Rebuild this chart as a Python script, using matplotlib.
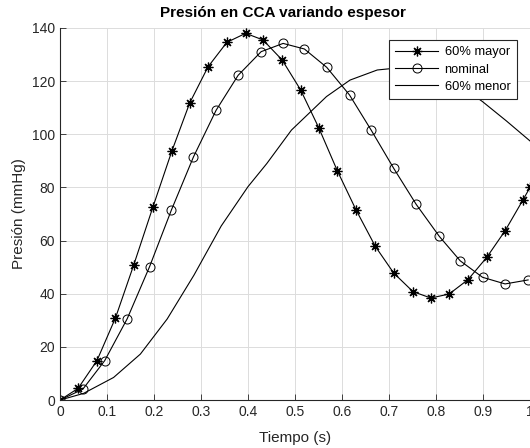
import matplotlib.pyplot as plt

plt.rcParams['font.family'] = ['Liberation Sans', 'DejaVu Sans']

# 60% mayor (asterisks)
t_mayor = [0, 0.0385, 0.0785, 0.118, 0.157, 0.198, 0.238, 0.276, 0.315, 0.355,
           0.395, 0.432, 0.4725, 0.512, 0.551, 0.590, 0.630, 0.671, 0.710, 0.751,
           0.789, 0.828, 0.868, 0.908, 0.947, 0.985, 1.0]
p_mayor = [0, 4.4, 14.8, 30.9, 50.9, 72.8, 93.7, 111.8, 125.4, 134.6,
           138.0, 135.5, 128.0, 116.7, 102.3, 86.3, 71.5, 57.8, 47.8, 40.8,
           38.4, 39.9, 45.3, 53.7, 63.7, 75.3, 80.0]

# nominal (circles)
t_nom = [0, 0.0486, 0.095, 0.143, 0.1906, 0.237, 0.284, 0.332, 0.379, 0.428,
         0.4747, 0.52, 0.5675, 0.616, 0.662, 0.710, 0.758, 0.807, 0.8515, 0.899,
         0.947, 0.996]
p_nom = [0, 4.1, 14.8, 30.6, 50.2, 71.5, 91.5, 109.0, 122.2, 131.1,
         134.2, 132.1, 125.2, 114.8, 101.6, 87.2, 73.6, 61.6, 52.4, 46.2,
         43.7, 45.2]

# 60% menor (line only)
t_men = [0, 0.05, 0.114, 0.171, 0.228, 0.285, 0.343, 0.40, 0.44, 0.4925,
         0.567, 0.617, 0.675, 0.72, 0.75, 0.80, 0.85, 0.899, 0.95, 1.0]
p_men = [0, 2.5, 8.5, 17.3, 30.5, 47.0, 65.5, 80.3, 89.0, 101.6,
         114.2, 120.4, 124.2, 125.0, 124.8, 122.5, 118.5, 112.3, 105.0, 97.5]

fig = plt.figure(figsize=(5.3, 4.48), dpi=100)
ax = fig.add_axes([0.1132, 0.107, 0.8868, 0.8305])

ax.plot(t_mayor, p_mayor, color='k', lw=0.8, marker=(8, 2, 0), ms=7,
        mew=0.9, label='60% mayor')
ax.plot(t_nom, p_nom, color='k', lw=0.8, marker='o', ms=6.5, mfc='none',
        mew=0.7, label='nominal')
ax.plot(t_men, p_men, color='k', lw=0.8, label='60% menor')

ax.set_xlim(0, 1)
ax.set_ylim(0, 140)
ax.set_xticks([0, 0.1, 0.2, 0.3, 0.4, 0.5, 0.6, 0.7, 0.8, 0.9, 1])
ax.set_xticklabels(['0', '0.1', '0.2', '0.3', '0.4', '0.5', '0.6', '0.7', '0.8', '0.9', '1'])
ax.set_yticks(range(0, 141, 20))
ax.grid(True, color='#dcdcdc', lw=0.7)
ax.set_axisbelow(True)
ax.tick_params(direction='in', length=4, labelsize=10, colors='#262626',
               width=0.6)
for s in ['top', 'right']:
    ax.spines[s].set_visible(False)
for s in ['left', 'bottom']:
    ax.spines[s].set_color('#262626')
    ax.spines[s].set_linewidth(0.8)

fig.text(0.534, 0.97, 'Presión en CCA variando espesor', fontsize=11,
         fontweight='bold', ha='center', va='center')
ax.set_xlabel('Tiempo (s)', fontsize=11, color='#262626', labelpad=9)
ax.set_ylabel('Presión (mmHg)', fontsize=11, color='#262626', labelpad=4)

leg = ax.legend(loc='upper right', bbox_to_anchor=(0.972, 0.968), fontsize=9.3,
                frameon=True, fancybox=False, edgecolor='#262626',
                framealpha=1, borderpad=0.5, labelspacing=0.4,
                handlelength=3.3, handletextpad=0.5, borderaxespad=0)
leg.get_frame().set_linewidth(0.8)

fig.savefig('out.png', dpi=100)
